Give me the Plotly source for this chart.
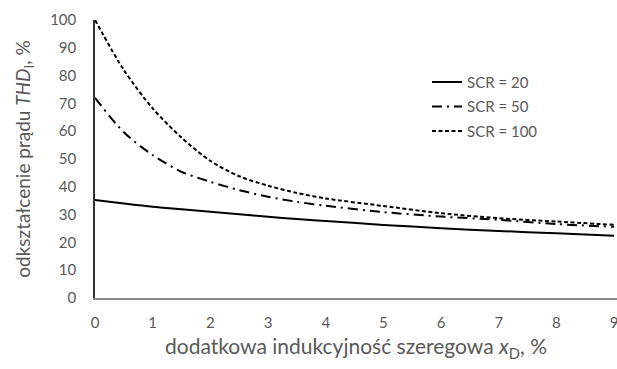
import plotly.graph_objects as go

x_vals = [0, 0.5, 1, 1.5, 2, 2.5, 3, 3.5, 4, 5, 6, 7, 8, 9]
scr20 = [35.3, 34.0, 32.8, 31.9, 31.0, 30.1, 29.2, 28.4, 27.7, 26.3, 25.1, 24.1, 23.3, 22.4]
scr50 = [72.0, 59.6, 51.4, 45.4, 41.8, 38.8, 36.4, 34.6, 33.2, 30.9, 29.3, 28.1, 26.6, 25.6]
scr100 = [100.0, 82.0, 68.2, 57.7, 49.3, 43.8, 40.4, 37.8, 35.8, 33.1, 30.5, 28.7, 27.5, 26.3]
names = ["SCR = 20", "SCR = 50", "SCR = 100"]
x_ticks = list(range(0, 10))
y_ticks = list(range(0, 101, 10))

FONT = "Lato"
GRAY = "#595959"

fig = go.Figure()
series = [(scr20, "solid"), (scr50, "10px,5px,2px,5px"), (scr100, "4px,2.5px")]
for (vals, dash), name in zip(series, names):
    fig.add_trace(go.Scatter(
        x=x_vals, y=vals, name=name, mode="lines", legendgroup=name,
        line=dict(color="black", width=2, dash=dash, shape="spline", smoothing=0.8),
    ))

fig.update_layout(
    width=617, height=369,
    margin=dict(l=95, r=0, t=20, b=71),
    paper_bgcolor="white", plot_bgcolor="white",
    font=dict(family=FONT, color=GRAY, size=15),
    showlegend=True,
    legend=dict(
        x=0.636, y=0.835, xanchor="left", yanchor="top",
        font=dict(family=FONT, size=15, color=GRAY),
        bgcolor="rgba(0,0,0,0)", tracegroupgap=2, itemwidth=30,
        traceorder="grouped",
    ),
    xaxis=dict(
        range=[0, 9.05], tickvals=x_ticks, showgrid=False, zeroline=False,
        showline=True, linecolor="#8c8c8c", linewidth=1.5,
        ticks="", ticklabelstandoff=10, ticklabeloverflow="allow",
        tickfont=dict(family=FONT, size=15, color=GRAY),
        title=dict(text="dodatkowa indukcyjność szeregowa <i>x</i><sub>D</sub>, %",
                   font=dict(family=FONT, size=21, color=GRAY), standoff=10),
    ),
    yaxis=dict(
        range=[0, 100], tickvals=y_ticks, showgrid=False, zeroline=False,
        showline=True, linecolor="#333333", linewidth=1.5,
        ticks="", ticklabelstandoff=14,
        tickfont=dict(family=FONT, size=15, color=GRAY),
        title=dict(text="odkształcenie prądu <i>THD</i><sub>I</sub>, %",
                   font=dict(family=FONT, size=19, color=GRAY), standoff=14),
    ),
)

fig.write_html("out.html")
